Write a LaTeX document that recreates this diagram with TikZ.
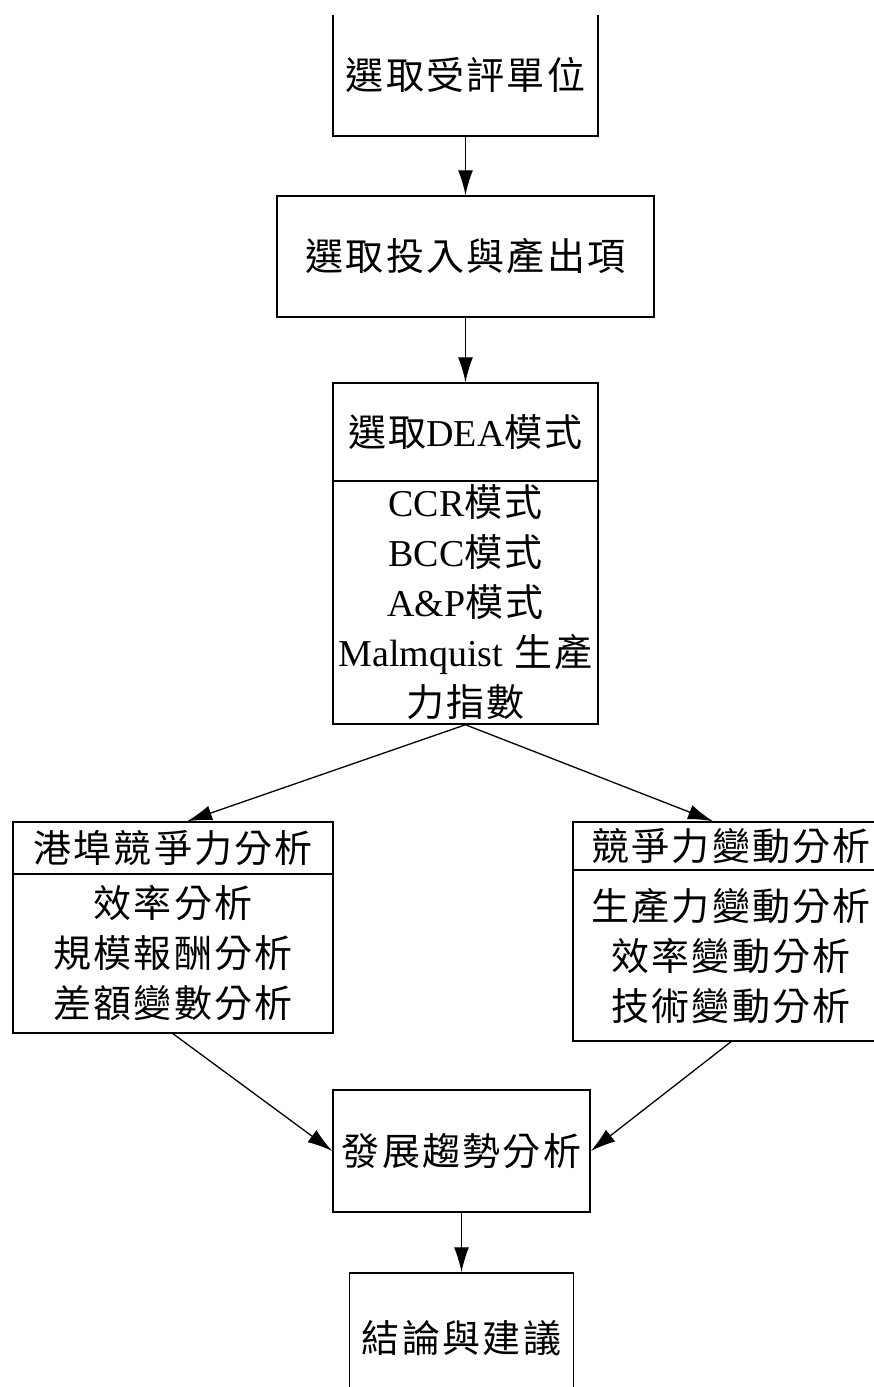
\documentclass[tikz,border=0pt]{standalone}
\usepackage{fontspec}
\setmainfont{Noto Sans CJK TC}[LetterSpace=6]
\newfontfamily\lat{Liberation Serif}
\usetikzlibrary{arrows.meta}
\tikzset{
  box/.style={draw=black, line width=1.5pt, inner sep=0pt, align=center,
              font=\fontsize{38}{50}\selectfont},
  arr/.style={-{Latex[length=25pt,width=15pt]}, line width=1.3pt},
}
\begin{document}
\begin{tikzpicture}[x=1pt,y=-1pt]
\useasboundingbox (0,0) rectangle (874,1387);
\fill[white] (0,0) rectangle (874,1387);
\begin{scope}
\clip (0,15) rectangle (874,1387);
% top box (top edge outside the frame)
\node[box, minimum width=265pt, minimum height=122pt] (n1) at (465.5,75) {選取受評單位};
\node[box, minimum width=377pt, minimum height=121pt] (n2) at (465.5,256.5) {選取投入與產出項};
% DEA model box
\node[box, minimum width=265pt, minimum height=98pt] (n3a) at (465.5,432) {選取{\lat DEA}模式};
\node[box, minimum width=265pt, minimum height=243pt] (n3b) at (465.5,602.5)
  {{\lat CCR}模式\\{\lat BCC}模式\\{\lat A\&P}模式\\{\lat Malmquist} 生產\\力指數};
% left analysis box
\node[box, minimum width=320pt, minimum height=52pt] (n4a) at (173,848) {港埠競爭力分析};
\node[box, minimum width=320pt, minimum height=159pt] (n4b) at (173,953.5)
  {效率分析\\規模報酬分析\\差額變數分析};
% right analysis box (right edge outside the frame)
\node[box, minimum width=316pt, minimum height=48pt] (n5a) at (731,846) {競爭力變動分析};
\node[box, minimum width=316pt, minimum height=171pt] (n5b) at (731,955.5)
  {生產力變動分析\\效率變動分析\\技術變動分析};
% trend box
\node[box, minimum width=257pt, minimum height=122pt] (n6) at (461.5,1151) {發展趨勢分析};
% conclusion box (bottom edge outside the frame)
\node[box, minimum width=224pt, minimum height=130pt] (n7) at (461.5,1338) {結論與建議};
% connectors
\draw[arr] (n1.south) -- (n2.north);
\draw[arr] (n2.south) -- (n3a.north);
\draw[arr] (n3b.south) -- ([xshift=14pt]n4a.north);
\draw[arr] (n3b.south) -- ([xshift=-18pt]n5a.north);
\draw[arr] (n4b.south) -- (n6.west);
\draw[arr] (n5b.south) -- (n6.east);
\draw[arr] (n6.south) -- (n7.north);
\end{scope}
\end{tikzpicture}
\end{document}
